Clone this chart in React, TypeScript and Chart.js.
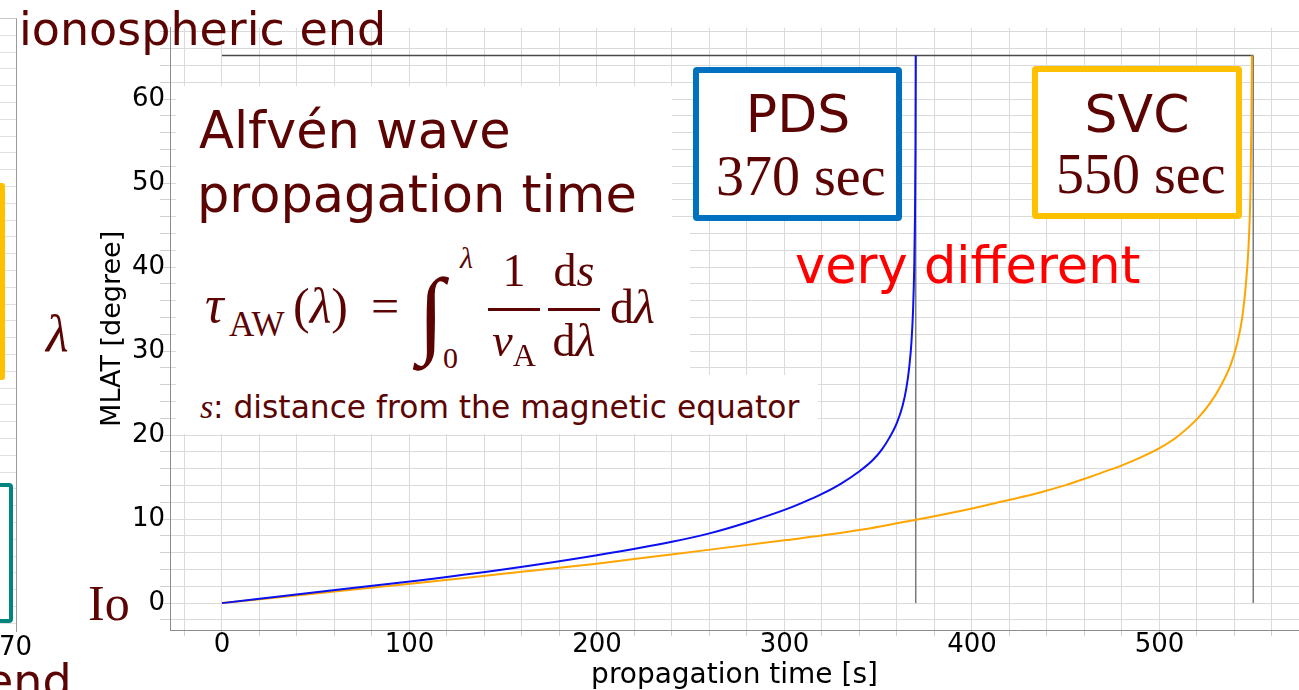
import React, { useEffect, useRef } from "react";
import { Chart, registerables } from "chart.js";

Chart.register(...registerables);

// ---------- data ----------
const pdsTime = [0, 50, 105, 150, 200, 240, 260, 280, 300, 310, 320, 330, 340, 347, 352, 356, 360, 363, 365, 366.5, 367.7, 368.6, 369.2, 369.6, 369.85, 370];
const pdsLat = [0, 1.3, 2.7, 4.0, 5.7, 7.3, 8.3, 9.6, 11.1, 12.0, 13.0, 14.2, 15.7, 17.0, 18.3, 19.7, 21.5, 23.5, 25.6, 28, 31, 35, 40, 46, 54, 65.2];

const svcTime = [0, 50, 105.6, 150, 199.8, 240.7, 301, 340, 369.6, 400.7, 420, 430, 440, 450, 460, 470, 480, 490, 500, 510, 520, 527, 533, 538, 541.5, 544, 546, 547.5, 548.5, 549, 549.3];
const svcLat = [0, 1.15, 2.42, 3.5, 4.7, 5.83, 7.5, 8.7, 9.9, 11.3, 12.3, 12.8, 13.4, 14.05, 14.8, 15.6, 16.4, 17.35, 18.45, 19.9, 21.9, 23.8, 26.0, 28.4, 31.0, 33.8, 37.8, 42.5, 49, 57, 65.2];

const ionosphereLat = 65.2;
const pdsTotal = 370;
const svcTotal = 550;

const xGridTicks = [-20, 0, 20, 40, 60, 80, 100, 120, 140, 160, 180, 200, 220, 240, 260, 280, 300, 320, 340, 360, 380, 400, 420, 440, 460, 480, 500, 520, 540, 560];
const xLabelTicks = [0, 100, 200, 300, 400, 500];
const yGridTicks = [-2, 0, 2, 4, 6, 8, 10, 12, 14, 16, 18, 20, 22, 24, 26, 28, 30, 32, 34, 36, 38, 40, 42, 44, 46, 48, 50, 52, 54, 56, 58, 60, 62, 64, 66, 68];
const yLabelTicks = [0, 10, 20, 30, 40, 50, 60];

// ---------- text helpers ----------
const SANS = '"DejaVu Sans", sans-serif';
const SERIF = '"Liberation Serif", "DejaVu Serif", serif';
const DARK = "#5c0404";

type TProps = {
  x: number;
  b: number;
  size: number;
  serif?: boolean;
  italic?: boolean;
  color?: string;
  center?: boolean;
  children: React.ReactNode;
};

function T({ x, b, size, serif, italic, color = DARK, center, children }: TProps) {
  const k = serif ? 0.8375 : 0.846;
  const style: React.CSSProperties = {
    position: "absolute",
    top: b - k * size,
    fontFamily: serif ? SERIF : SANS,
    fontSize: size,
    lineHeight: 1,
    fontStyle: italic ? "italic" : "normal",
    color,
    whiteSpace: "nowrap",
  };
  if (center) {
    style.left = x - 300;
    style.width = 600;
    style.textAlign = "center";
  } else {
    style.left = x;
  }
  return <span style={style}>{children}</span>;
}

function Box({ l, t, w, h, border, radius = 0, bg = "#fff" }: { l: number; t: number; w: number; h: number; border?: string; radius?: number; bg?: string }) {
  return (
    <div
      style={{
        position: "absolute",
        left: l,
        top: t,
        width: w,
        height: h,
        boxSizing: "border-box",
        border,
        borderRadius: radius,
        background: bg,
      }}
    />
  );
}

export default function App() {
  const canvasRef = useRef<HTMLCanvasElement | null>(null);

  useEffect(() => {
    if (!canvasRef.current) return;
    const chart = new Chart(canvasRef.current, {
      type: "line",
      data: {
        datasets: [
          {
            label: "PDS",
            data: pdsTime.map((t, i) => ({ x: t, y: pdsLat[i] })),
            borderColor: "#0a10f0",
            borderWidth: 2,
            pointRadius: 0,
            cubicInterpolationMode: "monotone",
            fill: false,
          },
          {
            label: "SVC",
            data: svcTime.map((t, i) => ({ x: t, y: svcLat[i] })),
            borderColor: "#ffa500",
            borderWidth: 2,
            pointRadius: 0,
            cubicInterpolationMode: "monotone",
            fill: false,
          },
          {
            label: "ionospheric end",
            data: [
              { x: 0, y: ionosphereLat },
              { x: svcTotal, y: ionosphereLat },
            ],
            borderColor: "#4a4a4a",
            borderWidth: 1.5,
            pointRadius: 0,
            fill: false,
          },
          {
            label: "PDS total",
            data: [
              { x: pdsTotal, y: 0 },
              { x: pdsTotal, y: ionosphereLat },
            ],
            borderColor: "#7a7a7a",
            borderWidth: 1.5,
            pointRadius: 0,
            fill: false,
          },
          {
            label: "SVC total",
            data: [
              { x: svcTotal, y: 0 },
              { x: svcTotal, y: ionosphereLat },
            ],
            borderColor: "#7a7a7a",
            borderWidth: 1.5,
            pointRadius: 0,
            fill: false,
          },
        ],
      },
      options: {
        animation: false,
        responsive: false,
        events: [],
        layout: { padding: { top: 27.7, right: 0, left: 0, bottom: 0 } },
        plugins: { legend: { display: false }, tooltip: { enabled: false }, title: { display: false } },
        scales: {
          x: {
            type: "linear",
            min: -27.7,
            max: 574.4,
            afterBuildTicks: (s: any) => {
              s.ticks = xGridTicks.map((v) => ({ value: v }));
            },
            afterFit: (s: any) => {
              s.height = 60;
            },
            grid: { color: "#dadada", lineWidth: 1, tickLength: 6, tickColor: "#d0d0d0" },
            border: { display: true, color: "#8c8c8c", width: 1 },
            ticks: {
              autoSkip: false,
              maxRotation: 0,
              minRotation: 0,
              padding: -6,
              color: "#000",
              font: { family: "DejaVu Sans", size: 26 },
              callback: (v: any) => (xLabelTicks.includes(Number(v)) ? String(v) : ""),
            },
            title: {
              display: true,
              text: "propagation time [s]",
              color: "#000",
              font: { family: "DejaVu Sans", size: 28 },
              padding: { top: 0, bottom: -3 },
            },
          },
          y: {
            type: "linear",
            min: -3.2,
            max: 68.5,
            afterBuildTicks: (s: any) => {
              s.ticks = yGridTicks.map((v) => ({ value: v }));
            },
            afterFit: (s: any) => {
              s.width = 170;
            },
            grid: { color: "#dadada", lineWidth: 1, tickLength: 10, tickColor: "#d0d0d0" },
            border: { display: true, color: "#8c8c8c", width: 1 },
            ticks: {
              autoSkip: false,
              padding: -5,
              color: "#000",
              font: { family: "DejaVu Sans", size: 26 },
              callback: (v: any) => (yLabelTicks.includes(Number(v)) ? String(v) : ""),
            },
            title: {
              display: true,
              text: "MLAT [degree]",
              color: "#000",
              font: { family: "DejaVu Sans", size: 27 },
              padding: { top: 97, bottom: 0 },
            },
          },
        },
      },
    } as any);
    return () => chart.destroy();
  }, []);

  return (
    <div
      style={{
        position: "fixed",
        left: 0,
        top: 0,
        width: 1299,
        height: 690,
        overflow: "hidden",
        background: "#fff",
      }}
    >
      {/* left fragment of a neighbouring chart */}
      <div
        style={{
          position: "absolute",
          left: -10,
          top: 18,
          width: 27,
          height: 614,
          boxSizing: "border-box",
          borderRight: "1px solid #9a9a9a",
          borderTop: "1px solid #c8c8c8",
          background: "repeating-linear-gradient(to bottom, transparent 0px, transparent 15.8px, #e0e0e0 15.8px, #e0e0e0 16.8px)",
        }}
      />
      <Box l={-20} t={183} w={25} h={197} border="5px solid #ffc000" radius={3} />
      <Box l={-30} t={483} w={43} h={140} border="4px solid #00857f" radius={4} />

      <canvas ref={canvasRef} width={1299} height={690} style={{ position: "absolute", left: 0, top: 0 }} />

      {/* white text boxes */}
      <Box l={176} t={86} w={496} h={141} />
      <Box l={176} t={227} w={514} h={148} />
      <Box l={176} t={375} w={642} h={59} />

      <T x={19} b={45} size={46}>ionospheric end</T>
      <T x={88} b={620} size={50} serif>Io</T>
      <T x={46} b={352} size={52} serif italic>λ</T>
      <T x={-1} b={655} size={26} color="#000">70</T>
      <T x={-15} b={697} size={46}>end</T>

      <T x={199} b={148} size={51}>Alfvén wave</T>
      <T x={197} b={212} size={51}>propagation time</T>

      {/* formula */}
      <T x={205} b={323} size={52} serif italic>τ</T>
      <T x={229} b={336} size={35} serif>AW</T>
      <T x={293} b={323} size={50} serif>
        (<span style={{ fontStyle: "italic" }}>λ</span>)
      </T>
      <T x={371} b={323} size={50} serif>=</T>
      <T x={418} b={345} size={96} serif italic>∫</T>
      <T x={460} b={268} size={30} serif italic>λ</T>
      <T x={443} b={368} size={30} serif>0</T>
      <T x={514} b={287} size={46} serif center>1</T>
      <div style={{ position: "absolute", left: 488, top: 307.5, width: 52, height: 3, background: DARK }} />
      <T x={514} b={357} size={46} serif center>
        <span style={{ fontStyle: "italic" }}>v</span>
        <span style={{ fontSize: 32, position: "relative", top: 10 }}>A</span>
      </T>
      <T x={574} b={287} size={46} serif center>
        d<span style={{ fontStyle: "italic" }}>s</span>
      </T>
      <div style={{ position: "absolute", left: 548, top: 307.5, width: 52, height: 3, background: DARK }} />
      <T x={574} b={357} size={46} serif center>
        d<span style={{ fontStyle: "italic" }}>λ</span>
      </T>
      <T x={610} b={323} size={48} serif>
        d<span style={{ fontStyle: "italic" }}>λ</span>
      </T>

      <T x={200} b={418} size={34} serif italic>s</T>
      <T x={213} b={418} size={31.3}>: distance from the magnetic equator</T>

      {/* PDS / SVC boxes */}
      <Box l={693} t={67} w={209} h={154} border="6px solid #0070c0" radius={4} />
      <T x={798} b={132} size={52} center>PDS</T>
      <T x={716} b={195} size={56} serif>370 sec</T>

      <Box l={1032} t={66} w={210} h={153} border="6px solid #ffc000" radius={4} />
      <T x={1137} b={132} size={52} center>SVC</T>
      <T x={1056} b={193} size={56} serif>550 sec</T>

      <T x={795} b={283} size={51} color="#ff0000">very different</T>
    </div>
  );
}
